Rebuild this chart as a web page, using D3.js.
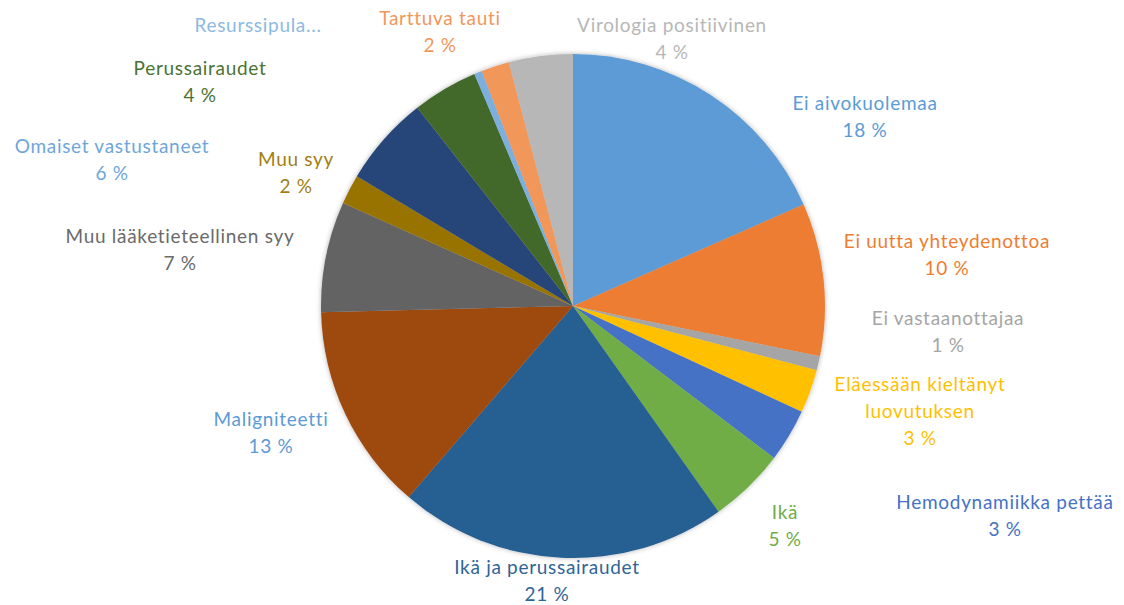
<!DOCTYPE html>
<html>
<head>
<meta charset="utf-8">
<script src="https://cdn.jsdelivr.net/npm/d3@7"></script>
<style>
  body { margin: 0; background: #fff; }
  text { font-family: Lato, "Open Sans", sans-serif; }
</style>
</head>
<body>
<div id="chart"></div>
<script>
(function() {
const width = 1124,
      height = 605

// data (percent)
const categories = [
  'Ei aivokuolemaa', 'Ei uutta yhteydenottoa', 'Ei vastaanottajaa',
  'Eläessään kieltänyt luovutuksen', 'Hemodynamiikka pettää', 'Ikä',
  'Ikä ja perussairaudet', 'Maligniteetti', 'Muu lääketieteellinen syy',
  'Muu syy', 'Omaiset vastustaneet', 'Perussairaudet', 'Resurssipula',
  'Tarttuva tauti', 'Virologia positiivinen'
]
const values = [18.4, 9.8, 0.9, 2.8, 3.4, 4.9, 21.1, 13.3, 7.1, 1.9, 5.8, 4.2, 0.5, 1.8, 4.1]
const colors = [
  '#5B9BD5', '#ED7D31', '#A5A5A5', '#FFC000', '#4472C4', '#70AD47',
  '#255E91', '#9E480E', '#636363', '#997300', '#264478', '#43682B',
  '#7CAFDD', '#F1975A', '#B7B7B7'
]
const labelColors = [
  '#5B9BD5', '#ED7D31', '#A5A5A5', '#FFC000', '#4472C4', '#70AD47',
  '#2F6497', '#5B9BD5', '#6A6A6A', '#A07E14', '#6FA6DA', '#4A7332',
  '#8DB9E2', '#F1975A', '#B7B7B7'
]
// how each label breaks into lines (as shown in the chart)
const labelLines = [
  ['Ei aivokuolemaa'], ['Ei uutta yhteydenottoa'], ['Ei vastaanottajaa'],
  ['Eläessään kieltänyt', 'luovutuksen'], ['Hemodynamiikka pettää'], ['Ikä'],
  ['Ikä ja perussairaudet'], ['Maligniteetti'], ['Muu lääketieteellinen syy'],
  ['Muu syy'], ['Omaiset vastustaneet'], ['Perussairaudet'], ['Resurssipula...'],
  ['Tarttuva tauti'], ['Virologia positiivinen']
]
const showPct = [true, true, true, true, true, true, true, true, true, true, true, true, false, true, true]

// label anchor (top line centre) positions
const labelPos = [
  [865, 103], [947, 241], [948, 318], [920, 384], [1005, 502], [785, 512],
  [547, 567], [271, 419], [180, 236], [296, 159], [112, 146], [200, 68],
  [258, 25], [440, 18], [672, 25]
]

const data = categories.map(function(c, i) {
  return { name: c, value: values[i], color: colors[i], labelColor: labelColors[i],
           lines: labelLines[i], pct: showPct[i], pos: labelPos[i] }
})

const cx = 573, cy = 306, r = 252

const svg = d3.select('#chart')
  .append('svg')
  .attr('width', width)
  .attr('height', height)

const defs = svg.append('defs')
const filter = defs.append('filter').attr('id', 'shadow')
  .attr('x', '-10%').attr('y', '-10%').attr('width', '120%').attr('height', '120%')
filter.append('feDropShadow')
  .attr('dx', 0).attr('dy', 0).attr('stdDeviation', 2.5)
  .attr('flood-color', '#000').attr('flood-opacity', 0.3)

const pie = d3.pie()
  .sort(null)
  .value(function(d) { return d.value })

const arc = d3.arc()
  .innerRadius(0)
  .outerRadius(r)

const g = svg.append('g')
  .attr('transform', 'translate(' + cx + ',' + cy + ')')

g.append('g')
  .attr('filter', 'url(#shadow)')
  .selectAll('path')
  .data(pie(data))
  .enter().append('path')
  .attr('d', arc)
  .attr('fill', function(d) { return d.data.color })

const labels = svg.append('g')
  .selectAll('text')
  .data(data)
  .enter().append('text')
  .attr('text-anchor', 'middle')
  .attr('font-size', 19)
  .attr('letter-spacing', 0.7)
  .attr('fill', function(d) { return d.labelColor })
  .attr('transform', function(d) { return 'translate(' + d.pos[0] + ',' + d.pos[1] + ')' })

labels.each(function(d) {
  const t = d3.select(this)
  const lines = d.lines.slice()
  if (d.pct) lines.push(Math.round(d.value) + ' %')
  lines.forEach(function(l, i) {
    t.append('tspan')
      .attr('x', 0)
      .attr('y', i * 27)
      .attr('dy', '0.35em')
      .text(l)
  })
})

})()
</script>
</body>
</html>
